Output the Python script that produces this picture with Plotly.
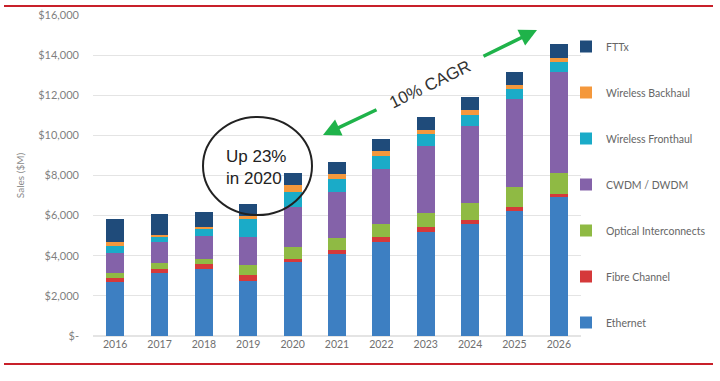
import plotly.graph_objects as go

years = ["2016", "2017", "2018", "2019", "2020", "2021", "2022", "2023", "2024", "2025", "2026"]

ethernet = [2700, 3150, 3340, 2750, 3680, 4080, 4700, 5170, 5590, 6240, 6920]
fibre_channel = [180, 200, 250, 300, 160, 200, 250, 250, 200, 210, 170]
optical_interconnects = [260, 300, 250, 480, 580, 610, 630, 730, 830, 1000, 1030]
cwdm_dwdm = [990, 1060, 1130, 1380, 2000, 2310, 2730, 3300, 3830, 4360, 5040]
wireless_fronthaul = [360, 200, 380, 900, 780, 650, 660, 610, 580, 500, 480]
wireless_backhaul = [180, 130, 100, 180, 330, 230, 250, 220, 220, 210, 220]
fttx = [1170, 1050, 730, 610, 580, 610, 580, 660, 670, 660, 700]

series_names = ["Ethernet", "Fibre Channel", "Optical Interconnects", "CWDM / DWDM",
                "Wireless Fronthaul", "Wireless Backhaul", "FTTx"]
series_values = [ethernet, fibre_channel, optical_interconnects, cwdm_dwdm,
                 wireless_fronthaul, wireless_backhaul, fttx]
series_colors = ["#3d7fc2", "#d5393a", "#8fba44", "#8462a9", "#1aabc8", "#f4983c", "#1f4b7a"]

y_tickvals = [0, 2000, 4000, 6000, 8000, 10000, 12000, 14000, 16000]
y_ticktext = ["$-", "$2,000", "$4,000", "$6,000", "$8,000", "$10,000", "$12,000", "$14,000", "$16,000"]

W, H = 720, 381
L, R, T, B = 93, 139, 15, 45
PW, PH = W - L - R, H - T - B


def px(x):
    return (x - L) / PW


def py(y):
    return (H - B - y) / PH


fig = go.Figure()
n = len(series_names)
for i, (name, vals, col) in enumerate(zip(series_names, series_values, series_colors)):
    fig.add_trace(go.Bar(x=years, y=vals, name=name, marker_color=col,
                         marker_line_width=0, legendgroup=name, legendrank=100 + n - i))

fig.update_layout(
    width=W, height=H,
    margin=dict(l=L, r=R, t=T, b=B, autoexpand=False),
    barmode="stack", bargap=0.6,
    plot_bgcolor="white", paper_bgcolor="white",
    font=dict(family="Lato, Liberation Sans, sans-serif", color="#7a7a7a", size=11),
    showlegend=True,
    legend=dict(traceorder="grouped", tracegroupgap=27,
                x=px(566), xanchor="left", y=py(32), yanchor="top",
                font=dict(size=10.5, color="#666666"), itemwidth=30,
                bgcolor="rgba(0,0,0,0)"),
)
fig.update_xaxes(showgrid=False, ticks="", showline=False,
                 tickfont=dict(size=10.5, color="#707070"))
fig.update_yaxes(range=[0, 16000], tickvals=y_tickvals, ticktext=y_ticktext,
                 showgrid=True, gridcolor="#e4e4e4", gridwidth=1,
                 zeroline=True, zerolinecolor="#e4e4e4", showline=False, ticks="",
                 ticklabelstandoff=13, automargin=False,
                 tickfont=dict(size=11, color="#7f7f7f"),
                 title=dict(text="Sales ($M)", font=dict(size=10, color="#8a8a8a"), standoff=11))

# red frame lines
for yy in (6, 364):
    fig.add_shape(type="line", xref="paper", yref="paper",
                  x0=px(4), x1=px(713), y0=py(yy), y1=py(yy),
                  line=dict(color="#c8202a", width=2))

# circle callout
fig.add_shape(type="circle", xref="paper", yref="paper",
              x0=px(203), x1=px(312), y0=py(215), y1=py(117),
              line=dict(color="#222222", width=2), fillcolor="rgba(0,0,0,0)")
fig.add_annotation(xref="paper", yref="paper", x=px(224), y=py(167),
                   xanchor="left", yanchor="middle", align="left", showarrow=False,
                   text="Up 23%<br>in 2020",
                   font=dict(family="Liberation Sans, Arial, sans-serif", size=17, color="#222222"))

# CAGR arrows
green = "#1fb34a"
fig.add_annotation(xref="paper", yref="paper", x=px(323), y=py(135), ax=55, ay=-26,
                   text="", showarrow=True, arrowhead=2, arrowsize=1, arrowwidth=3.5,
                   arrowcolor=green)
fig.add_annotation(xref="paper", yref="paper", x=px(537), y=py(30), ax=-55, ay=27,
                   text="", showarrow=True, arrowhead=2, arrowsize=1, arrowwidth=3.5,
                   arrowcolor=green)
fig.add_annotation(xref="paper", yref="paper", x=px(430), y=py(84), showarrow=False,
                   xanchor="center", yanchor="middle",
                   text="10% CAGR", textangle=-26,
                   font=dict(family="Liberation Sans, Arial, sans-serif", size=17, color="#333333"))

fig.write_html("out.html", config={"displayModeBar": False},
               post_script="document.body.style.margin='0';")
